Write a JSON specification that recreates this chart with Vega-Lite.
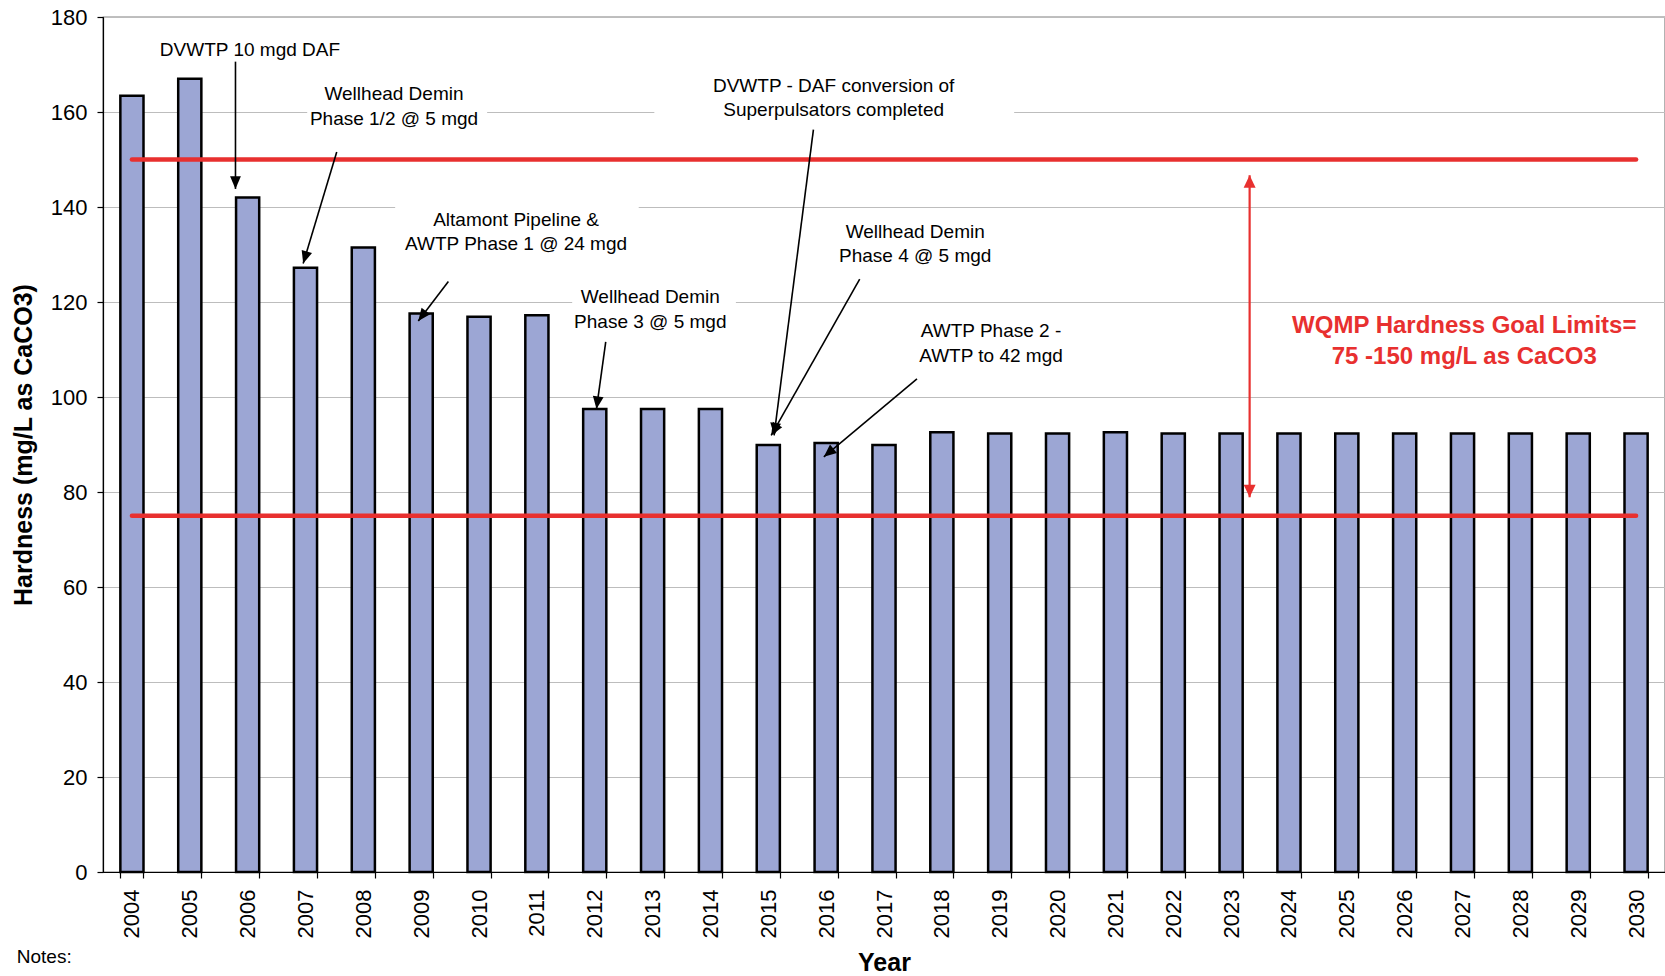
{
  "$schema": "https://vega.github.io/schema/vega-lite/v6.json",
  "width": 1562,
  "height": 855,
  "autosize": {"type": "none"},
  "padding": {"left": 103, "top": 17, "right": 0, "bottom": 104},
  "background": "white",
  "config": {
    "font": "Liberation Sans",
    "view": {"stroke": "black", "strokeWidth": 1.2}
  },
  "datasets": {
    "bars": [
      {"year": "2004", "hardness": 163.4},
      {"year": "2005", "hardness": 167.0},
      {"year": "2006", "hardness": 142.0},
      {"year": "2007", "hardness": 127.2},
      {"year": "2008", "hardness": 131.5},
      {"year": "2009", "hardness": 117.6},
      {"year": "2010", "hardness": 116.9},
      {"year": "2011", "hardness": 117.2},
      {"year": "2012", "hardness": 97.5},
      {"year": "2013", "hardness": 97.5},
      {"year": "2014", "hardness": 97.5},
      {"year": "2015", "hardness": 89.9},
      {"year": "2016", "hardness": 90.3},
      {"year": "2017", "hardness": 89.9},
      {"year": "2018", "hardness": 92.6},
      {"year": "2019", "hardness": 92.3},
      {"year": "2020", "hardness": 92.3},
      {"year": "2021", "hardness": 92.6},
      {"year": "2022", "hardness": 92.3},
      {"year": "2023", "hardness": 92.3},
      {"year": "2024", "hardness": 92.3},
      {"year": "2025", "hardness": 92.3},
      {"year": "2026", "hardness": 92.3},
      {"year": "2027", "hardness": 92.3},
      {"year": "2028", "hardness": 92.3},
      {"year": "2029", "hardness": 92.3},
      {"year": "2030", "hardness": 92.3}
    ],
    "limits": [{"limit": 150}, {"limit": 75}],
    "masks": [
      {"x": 2007.03, "x2": 2010.14, "y": 156.3, "y2": 166.1},
      {"x": 2008.55, "x2": 2012.76, "y": 128.8, "y2": 141.1},
      {"x": 2011.61, "x2": 2014.44, "y": 113.2, "y2": 123.7},
      {"x": 2013.03, "x2": 2019.25, "y": 157.4, "y2": 168.4}
    ],
    "arrows": [
      {"x": 2005.79, "y": 170.6, "x2": 2005.79, "y2": 143.8, "angle": 180},
      {"x": 2007.54, "y": 151.6, "x2": 2006.96, "y2": 128.1, "angle": 197},
      {"x": 2009.47, "y": 124.3, "x2": 2008.95, "y2": 116.0, "angle": 217},
      {"x": 2012.19, "y": 111.6, "x2": 2012.03, "y2": 97.5, "angle": 188},
      {"x": 2015.78, "y": 156.3, "x2": 2015.1, "y2": 91.9, "angle": 187},
      {"x": 2016.58, "y": 124.8, "x2": 2015.05, "y2": 91.9, "angle": 210},
      {"x": 2017.57, "y": 103.8, "x2": 2015.96, "y2": 87.4, "angle": 230}
    ],
    "rangeArrow": [{"x": 2023.32, "y": 78.9, "y2": 146.7}],
    "rangeHeads": [
      {"x": 2023.32, "y": 146.7, "angle": 0},
      {"x": 2023.32, "y": 78.9, "angle": 180}
    ],
    "notes": [
      {"x": 2006.04, "y": 173.1, "label": "DVWTP 10 mgd DAF"},
      {"x": 2008.53, "y": 163.7, "label": "Wellhead Demin\nPhase 1/2 @ 5 mgd"},
      {"x": 2010.64, "y": 137.3, "label": "Altamont Pipeline &\nAWTP Phase 1 @ 24 mgd"},
      {"x": 2012.96, "y": 121.0, "label": "Wellhead Demin\nPhase 3 @ 5 mgd"},
      {"x": 2016.13, "y": 165.5, "label": "DVWTP - DAF conversion of\nSuperpulsators completed"},
      {"x": 2017.54, "y": 134.8, "label": "Wellhead Demin\nPhase 4 @ 5 mgd"},
      {"x": 2018.85, "y": 113.8, "label": "AWTP Phase 2 -\nAWTP to 42 mgd"}
    ],
    "goal": [{"x": 2027.03, "y": 114.9, "label": "WQMP Hardness Goal Limits=\n75 -150 mg/L as CaCO3"}],
    "footnote": [{"x": 2002.01, "y": -17.9, "label": "Notes:"}]
  },
  "layer": [
    {
      "data": {"name": "masks"},
      "mark": {"type": "rect", "fill": "white", "stroke": null},
      "encoding": {
        "x": {"field": "x", "type": "quantitative", "scale": {"domain": [2003.5, 2030.5], "nice": false, "zero": false}, "axis": null},
        "x2": {"field": "x2"},
        "y": {"field": "y", "type": "quantitative", "scale": {"domain": [0, 180], "nice": false}},
        "y2": {"field": "y2"}
      }
    },
    {
      "data": {"name": "bars"},
      "mark": {"type": "bar", "fill": "#9ca6d4", "stroke": "black", "strokeWidth": 2.5},
      "encoding": {
        "x": {
          "field": "year", "type": "ordinal",
          "scale": {"paddingInner": 0.6, "paddingOuter": 0.3},
          "axis": {
            "title": "Year", "titleFontSize": 25, "titleFontWeight": "bold", "titleColor": "black",
            "titleY": 90, "titleBaseline": "middle",
            "labelAngle": -90, "labelFontSize": 22, "labelColor": "black", "labelPadding": 11,
            "tickBand": "extent", "tickSize": 6, "tickColor": "black", "domainColor": "black",
            "domainWidth": 1.2, "tickWidth": 1.2, "grid": false
          }
        },
        "y": {
          "field": "hardness", "type": "quantitative",
          "scale": {"domain": [0, 180], "nice": false},
          "axis": {
            "title": "Hardness (mg/L as CaCO3)", "titleFontSize": 25, "titleFontWeight": "bold", "titleColor": "black",
            "titleX": -80, "titleY": 427.5, "titleBaseline": "middle", "titleAlign": "center", "titleAngle": -90,
            "values": [0, 20, 40, 60, 80, 100, 120, 140, 160, 180],
            "labelFontSize": 22, "labelColor": "black", "labelPadding": 10,
            "tickSize": 6, "tickColor": "black", "domainColor": "black", "domainWidth": 1.2, "tickWidth": 1.2,
            "grid": true, "gridColor": "#bdbdbd", "gridWidth": 1
          }
        }
      }
    },
    {
      "data": {"name": "limits"},
      "mark": {"type": "rule", "color": "#e8302f", "strokeWidth": 4.5, "strokeCap": "round"},
      "encoding": {
        "x": {"datum": 2004, "type": "quantitative", "scale": {"domain": [2003.5, 2030.5], "nice": false, "zero": false}, "axis": null},
        "x2": {"datum": 2030},
        "y": {"field": "limit", "type": "quantitative"}
      }
    },
    {
      "data": {"name": "arrows"},
      "mark": {"type": "rule", "color": "black", "strokeWidth": 1.6},
      "encoding": {
        "x": {"field": "x", "type": "quantitative", "scale": {"domain": [2003.5, 2030.5], "nice": false, "zero": false}, "axis": null},
        "x2": {"field": "x2"},
        "y": {"field": "y", "type": "quantitative"},
        "y2": {"field": "y2"}
      }
    },
    {
      "data": {"name": "arrows"},
      "mark": {"type": "point", "shape": "M0,0L-0.9,2.1L0.9,2.1Z", "filled": true, "color": "black", "size": 144, "opacity": 1},
      "encoding": {
        "x": {"field": "x2", "type": "quantitative", "scale": {"domain": [2003.5, 2030.5], "nice": false, "zero": false}, "axis": null},
        "y": {"field": "y2", "type": "quantitative"},
        "angle": {"field": "angle", "type": "quantitative", "scale": null}
      }
    },
    {
      "data": {"name": "rangeArrow"},
      "mark": {"type": "rule", "color": "#e8302f", "strokeWidth": 2.2},
      "encoding": {
        "x": {"field": "x", "type": "quantitative", "scale": {"domain": [2003.5, 2030.5], "nice": false, "zero": false}, "axis": null},
        "y": {"field": "y", "type": "quantitative"},
        "y2": {"field": "y2"}
      }
    },
    {
      "data": {"name": "rangeHeads"},
      "mark": {"type": "point", "shape": "M0,0L-1,2.1L1,2.1Z", "filled": true, "color": "#e8302f", "size": 144, "opacity": 1},
      "encoding": {
        "x": {"field": "x", "type": "quantitative", "scale": {"domain": [2003.5, 2030.5], "nice": false, "zero": false}, "axis": null},
        "y": {"field": "y", "type": "quantitative"},
        "angle": {"field": "angle", "type": "quantitative", "scale": null}
      }
    },
    {
      "data": {"name": "notes"},
      "mark": {"type": "text", "fontSize": 19, "lineHeight": 24.5, "lineBreak": "\n", "align": "center", "baseline": "middle", "color": "black"},
      "encoding": {
        "x": {"field": "x", "type": "quantitative", "scale": {"domain": [2003.5, 2030.5], "nice": false, "zero": false}, "axis": null},
        "y": {"field": "y", "type": "quantitative"},
        "text": {"field": "label"}
      }
    },
    {
      "data": {"name": "goal"},
      "mark": {"type": "text", "fontSize": 24, "fontWeight": "bold", "lineHeight": 31, "lineBreak": "\n", "align": "center", "baseline": "middle", "color": "#e8302f"},
      "encoding": {
        "x": {"field": "x", "type": "quantitative", "scale": {"domain": [2003.5, 2030.5], "nice": false, "zero": false}, "axis": null},
        "y": {"field": "y", "type": "quantitative"},
        "text": {"field": "label"}
      }
    },
    {
      "data": {"name": "footnote"},
      "mark": {"type": "text", "fontSize": 19, "align": "left", "baseline": "middle", "color": "black"},
      "encoding": {
        "x": {"field": "x", "type": "quantitative", "scale": {"domain": [2003.5, 2030.5], "nice": false, "zero": false}, "axis": null},
        "y": {"field": "y", "type": "quantitative"},
        "text": {"field": "label"}
      }
    }
  ],
  "resolve": {"scale": {"x": "independent"}}
}
